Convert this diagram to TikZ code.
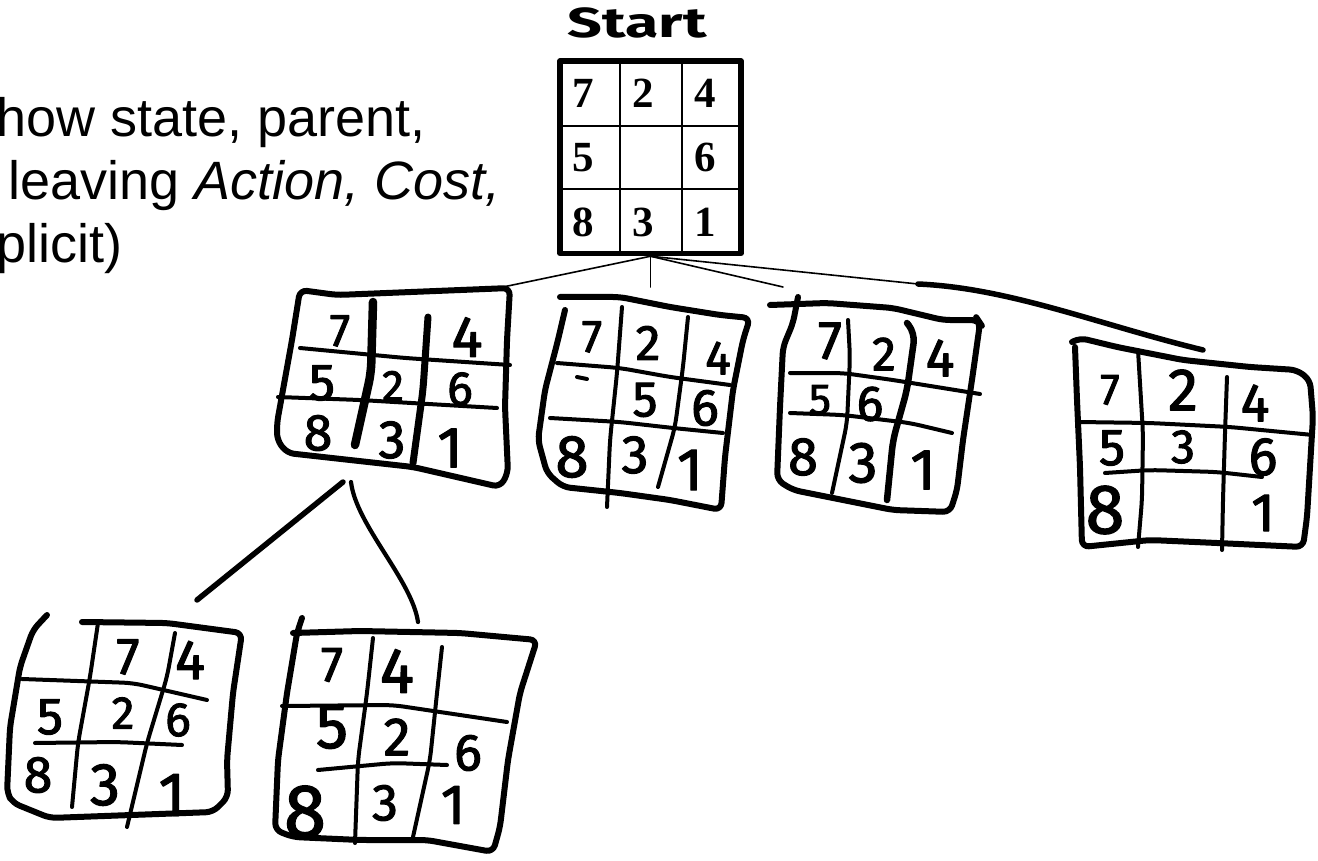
\documentclass[tikz,border=0pt]{standalone}
\usepackage{fontspec}
\setmainfont{Liberation Sans}
\newfontfamily\tilefont{Liberation Serif}
\newfontfamily\handfont[FakeBold=2]{Fira Sans}
\newfontfamily\labelfont{Fira Sans}
\begin{document}
\begin{tikzpicture}[x=1pt,y=-1pt,
  line cap=round, line join=round,
  thinlink/.style={line width=1.6pt},
  outline/.style={line width=6pt, rounded corners=7pt},
  gridline/.style={line width=4pt, rounded corners=10pt},
  heavyline/.style={line width=8.5pt, rounded corners=10pt},
  tile/.style={font=\tilefont\bfseries\fontsize{43}{43}\selectfont, anchor=base, inner sep=0pt},
  hd/.style={font=\handfont\fontsize{#1}{#1}\selectfont, inner sep=0pt},
  hd/.default=52,
  slide/.style={anchor=base west, inner sep=0pt, font=\fontsize{54}{64}\selectfont}
]
\useasboundingbox (0,0) rectangle (1318,861);

% slide text, running off the left edge
\node[slide] (t1) at (-3.5,137) {how state, parent,};
\node[slide] (t2) at (8,200) {leaving \textit{Action, Cost,}};
\node[slide] (t3) at (-3.5,263) {plicit)};

% start state
\node[font=\labelfont\bfseries\fontsize{42}{42}\selectfont, inner sep=0pt] (startlbl) at (637,23) {\scalebox{1.45}[1]{Start}};
\node[draw, line width=5.5pt, minimum width=181pt, minimum height=192.5pt, inner sep=0pt] (start) at (650.5,157.25) {};
\draw[line width=2pt] (620,61) -- (620,253.5) (681.7,61) -- (681.7,253.5)
  (560,126) -- (741,126) (560,189) -- (741,189);
\node[tile] (s7) at (583,108) {7};
\node[tile] (s2) at (643,108) {2};
\node[tile] (s4) at (705,108) {4};
\node[tile] (s5) at (583,172) {5};
\node[tile] (s6) at (705,172) {6};
\node[tile] (s8) at (583,237) {8};
\node[tile] (s3) at (643,237) {3};
\node[tile] (s1) at (705,237) {1};

% links from the start state
\coordinate (c1top) at (503,287);
\coordinate (c2top) at (650.5,287);
\coordinate (c3top) at (783,287);
\coordinate (c4mid) at (918,284);
\coordinate (c4top) at (1203,350);
\draw[thinlink] (start.south) -- (c1top);
\draw[thinlink] (start.south) -- (c2top);
\draw[thinlink] (start.south) -- (c3top);
\draw[thinlink] (start.south) -- (c4mid);
\draw[line width=5.5pt] (c4mid) .. controls (1010,288) and (1100,325) .. (c4top);

% child 1: blank moved up
\draw[outline] (300,290) -- (337,295) -- (510,288) -- (507,340) -- (505,407) -- (508,473)
  -- (500,487) -- (413,467) -- (287,453) -- (277,440) -- (277,423) -- (292,340) -- cycle;
\draw[gridline] (300,348) -- (405,358) -- (510,365);
\draw[gridline] (278,397) -- (360,400) -- (497,408);
\draw[heavyline] (373,302) -- (371,373) -- (355,445);
\draw[heavyline, line width=7pt] (428,317) -- (423,390) -- (413,463);
\node[hd=46] (a7) at (340,331) {7};
\node[hd=58] (a4) at (467,337) {4};
\node[hd=52] (a5) at (322,383) {5};
\node[hd=44] (a2) at (393,386) {2};
\node[hd=48] (a6) at (460,389) {6};
\node[hd=52] (a8) at (318,433) {8};
\node[hd=54] (a3) at (392,440) {3};
\node[hd=58] (a1) at (450,448) {1};

% child 2: blank moved left
\draw[outline] (560,297) -- (620,297) -- (670,307) -- (720,315) -- (750,318) -- (743,340)
  -- (733,390) -- (725,457) -- (721,510) -- (670,500) -- (620,493) -- (563,487) -- (547,473)
  -- (538,440) -- (545,390) -- (558,340) -- (565,310);
\draw[gridline] (557,363) -- (620,368) -- (670,377) -- (730,385);
\draw[gridline] (550,418) -- (620,422) -- (673,428) -- (723,433);
\draw[gridline] (622,307) -- (617,373) -- (610,440) -- (607,507);
\draw[gridline] (688,317) -- (683,367) -- (675,427) -- (658,487);
\draw[gridline] (577,377) -- (587,379);
\node[hd=46] (b7) at (592,337) {7};
\node[hd=50] (b2) at (648,343) {2};
\node[hd=48] (b4) at (718,358) {4};
\node[hd=50] (b5) at (645,400) {5};
\node[hd=52] (b6) at (705,408) {6};
\node[hd=60] (b8) at (572,457) {8};
\node[hd=54] (b3) at (635,455) {3};
\node[hd=60] (b1) at (690,470) {1};

% child 3: blank moved right
\draw[outline] (770,305) -- (827,303) -- (893,308) -- (943,320) -- (978,320) -- (980,323)
  -- (973,373) -- (963,440) -- (957,490) -- (950,512) -- (893,510) -- (843,500) -- (793,490)
  -- (777,480) -- (780,407) -- (783,347) -- (793,323) -- (798,297);
\draw[gridline] (790,373) -- (843,373) -- (893,380) -- (980,394);
\draw[gridline] (790,413) -- (843,415) -- (910,423) -- (952,433);
\draw[gridline] (848,320) -- (850,357) -- (847,423) -- (832,493);
\draw[heavyline, line width=6.5pt] (907,323) -- (915,333) -- (907,390) -- (893,440) -- (887,500);
\node[hd=54] (d7) at (830,341) {7};
\node[hd=48] (d2) at (884,354) {2};
\node[hd=54] (d4) at (940,358) {4};
\node[hd=44] (d5) at (820,400) {5};
\node[hd=50] (d6) at (870,404) {6};
\node[hd=54] (d8) at (803,457) {8};
\node[hd=58] (d3) at (863,463) {3};
\node[hd=58] (d1) at (923,470) {1};

% child 4: blank moved down
\draw[outline] (1072,342) -- (1080,338) -- (1117,347) -- (1183,360) -- (1250,367) -- (1297,370)
  -- (1310,380) -- (1313,417) -- (1310,467) -- (1307,517) -- (1303,547) -- (1217,543)
  -- (1150,540) -- (1082,547) -- (1080,467) -- (1077,400) -- (1075,347);
\draw[gridline] (1078,422) -- (1150,423) -- (1230,427) -- (1313,435);
\draw[gridline] (1105,473) -- (1150,470) -- (1217,472) -- (1262,477);
\draw[gridline] (1138,350) -- (1143,433) -- (1142,500) -- (1138,547);
\draw[gridline] (1227,377) -- (1225,433) -- (1223,500) -- (1222,550);
\node[hd=44] (e7) at (1110,390) {7};
\node[hd=60] (e2) at (1183,390) {2};
\node[hd=54] (e4) at (1255,403) {4};
\node[hd=52] (e5) at (1112,448) {5};
\node[hd=48] (e3) at (1183,447) {3};
\node[hd=54] (e6) at (1263,457) {6};
\node[hd=70] (e8) at (1105,510) {8};
\node[hd=54] (e1) at (1263,513) {1};

% links from child 1 to its children
\coordinate (g1from) at (343,482);
\coordinate (g1to) at (197,600);
\coordinate (g2from) at (351,482);
\coordinate (g2to) at (418,622);
\draw[line width=5.5pt] (g1from) -- (g1to);
\draw[line width=4.2pt] (g2from) .. controls (356,525) and (412,580) .. (g2to);

% grandchild 1: blank moved left
\draw[outline] (82,622) -- (167,623) -- (242,633) -- (233,693) -- (227,760) -- (228,797)
  -- (213,812) -- (50,818) -- (13,803) -- (7,793) -- (10,727) -- (20,667) -- (33,630) -- (47,615);
\draw[gridline] (22,679) -- (133,683) -- (207,700);
\draw[gridline] (35,743) -- (117,742) -- (182,745);
\draw[gridline] (98,623) -- (90,677) -- (78,743) -- (72,807);
\draw[gridline] (175,633) -- (167,677) -- (147,743) -- (127,827);
\node[hd=52] (f7) at (128,657) {7};
\node[hd=56] (f4) at (190,660) {4};
\node[hd=52] (f5) at (50,717) {5};
\node[hd=46] (f2) at (123,713) {2};
\node[hd=48] (f6) at (178,720) {6};
\node[hd=52] (f8) at (38,775) {8};
\node[hd=60] (f3) at (105,785) {3};
\node[hd=62] (f1) at (172,795) {1};

% grandchild 2: blank moved right
\draw[outline] (302,618) -- (297,633) -- (287,693) -- (278,760) -- (275,830) -- (293,837)
  -- (360,840) -- (427,840) -- (493,852) -- (500,827) -- (508,760) -- (520,693) -- (537,640)
  -- (460,633) -- (360,631) -- (293,633);
\draw[gridline] (282,706) -- (393,705) -- (507,722);
\draw[gridline] (318,770) -- (393,763) -- (447,765);
\draw[gridline] (373,638) -- (367,693) -- (358,760) -- (355,843);
\draw[gridline] (442,647) -- (437,693) -- (430,760) -- (413,837);
\node[hd=50] (h7) at (332,665) {7};
\node[hd=64] (h4) at (397,671) {4};
\node[hd=64] (h5) at (332,727) {5};
\node[hd=54] (h2) at (397,737) {2};
\node[hd=52] (h6) at (468,753) {6};
\node[hd=76] (h8) at (305,812) {8};
\node[hd=52] (h3) at (385,803) {3};
\node[hd=56] (h1) at (453,805) {1};
\end{tikzpicture}
\end{document}
